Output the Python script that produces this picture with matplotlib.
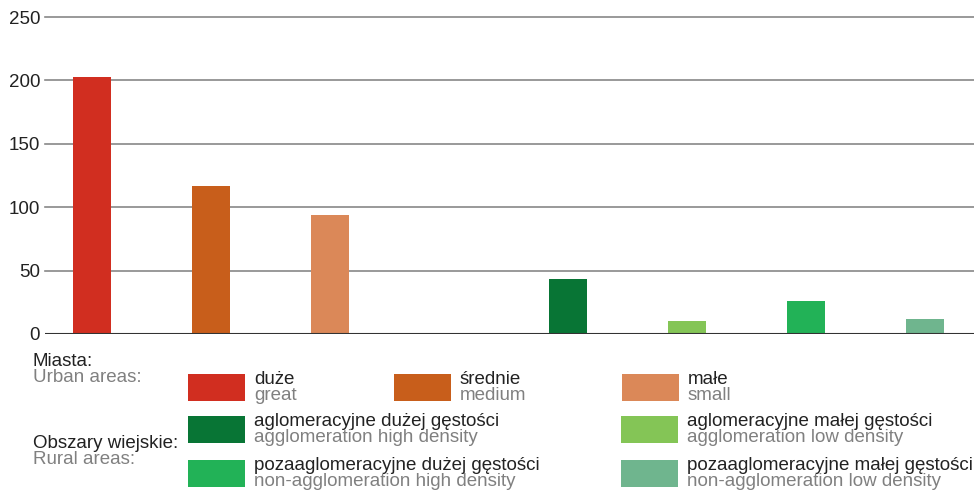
import matplotlib
matplotlib.use("Agg")
import matplotlib.pyplot as plt
from matplotlib.patches import Rectangle

plt.rcParams['font.family'] = ['Liberation Sans', 'DejaVu Sans']

# dane
urban_pl = ["duże", "średnie", "małe"]
urban_en = ["great", "medium", "small"]
urban_values = [203, 117, 94]
urban_colors = ["#D12E20", "#C85E1B", "#DB8858"]

rural_pl = ["aglomeracyjne dużej gęstości", "aglomeracyjne małej gęstości",
            "pozaaglomeracyjne dużej gęstości", "pozaaglomeracyjne małej gęstości"]
rural_en = ["agglomeration high density", "agglomeration low density",
            "non-agglomeration high density", "non-agglomeration low density"]
rural_values = [43, 10, 26, 12]
rural_colors = ["#087535", "#84C556", "#22B257", "#6FB58E"]

y_ticks = [0, 50, 100, 150, 200, 250]

W, H = 974, 491
FS = 13.5
fig = plt.figure(figsize=(W / 100, H / 100), dpi=100)

# oś w pikselach: x 45..974, y 17..334
ax = fig.add_axes([45 / W, (H - 334) / H, (W - 45) / W, (334 - 17) / H])

x_urban = list(range(len(urban_values)))
x_rural = [len(urban_values) + 1 + i for i in range(len(rural_values))]

ax.bar(x_urban, urban_values, width=0.32, color=urban_colors, zorder=2)
ax.bar(x_rural, rural_values, width=0.32, color=rural_colors, zorder=2)

ax.set_xlim(-0.395, 7.412)
ax.set_ylim(0, 250)
ax.set_yticks(y_ticks)
ax.set_xticks([])
for t in y_ticks[1:]:
    ax.axhline(t, color="#888888", lw=1.2, zorder=1, clip_on=False)
ax.axhline(0, color="#333333", lw=1.5, zorder=3)
for s in ax.spines.values():
    s.set_visible(False)
ax.tick_params(axis="y", length=0, labelsize=FS, labelcolor="#222222", pad=3.5)


def fx(px):
    return px / W


def fy(py):
    return 1 - py / H


black = "#222222"
gray = "#808080"

# legenda
fig.text(fx(33), fy(361), "Miasta:", fontsize=FS, color=black, va="center")
fig.text(fx(33), fy(377), "Urban areas:", fontsize=FS, color=gray, va="center")
fig.text(fx(33), fy(444), "Obszary wiejskie:", fontsize=FS, color=black, va="center")
fig.text(fx(33), fy(460), "Rural areas:", fontsize=FS, color=gray, va="center")


def legend_item(px, py, color, pl, en):
    fig.add_artist(Rectangle((fx(px), fy(py + 27)), 57 / W, 27 / H,
                             transform=fig.transFigure, color=color, lw=0))
    fig.text(fx(px + 66), fy(py + 5), pl, fontsize=FS, color=black, va="center")
    fig.text(fx(px + 66), fy(py + 21), en, fontsize=FS, color=gray, va="center")


urban_x = [188, 394, 622]
for i in range(len(urban_pl)):
    legend_item(urban_x[i], 374, urban_colors[i], urban_pl[i], urban_en[i])

rural_pos = [(188, 416), (621, 416), (188, 460), (621, 460)]
for i in range(len(rural_pl)):
    legend_item(rural_pos[i][0], rural_pos[i][1], rural_colors[i], rural_pl[i], rural_en[i])

fig.savefig("out.png", dpi=100)
